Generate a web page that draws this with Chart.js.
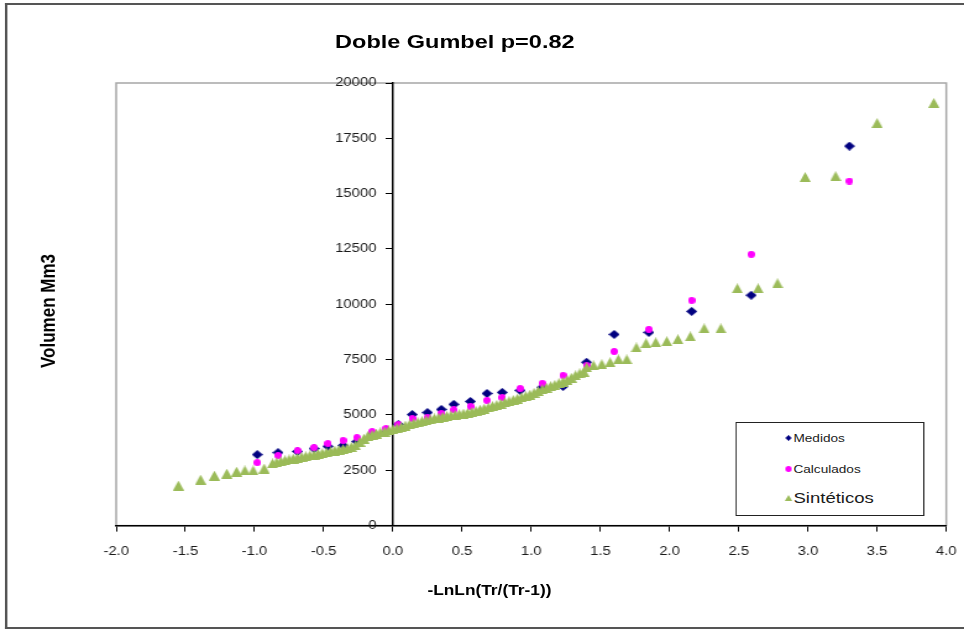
<!DOCTYPE html>
<html>
<head>
<meta charset="utf-8">
<script src="https://cdn.jsdelivr.net/npm/chart.js@4.4.1/dist/chart.umd.min.js"></script>
<style>
  html, body { margin: 0; padding: 0; background: #fff; overflow: hidden; }
  /* the reference is a horizontally stretched capture, so the whole chart is drawn narrow and stretched */
  #wrap { position: absolute; left: 0; top: 0; width: 787px; height: 630px;
          transform: scaleX(1.2359); transform-origin: 0 0;
          font-family: "Liberation Sans", Arial, sans-serif; color: #1a1a1a; }
  #frame { position: absolute; left: 4px; top: 3px; width: 800px; height: 622px;
           border-left: 2px solid #555; border-top: 2px solid #555; border-bottom: 2px solid #555; }
  #chart { position: absolute; left: 0; top: 0; }
  #title { position: absolute; left: 218px; top: 30px; width: 300px; text-align: center;
           font-weight: bold; font-size: 19px; line-height: 24px; color: #000; }
  #ytitle { position: absolute; left: -61px; top: 301px; width: 200px; height: 20px; text-align: center;
            font-weight: bold; font-size: 17px; line-height: 20px; color: #000; transform: rotate(-90deg); }
  #xtitle { position: absolute; left: 296px; top: 580px; width: 200px; text-align: center;
            font-weight: bold; font-size: 14px; line-height: 20px; color: #000; }
  #legend { position: absolute; left: 595px; top: 422px; width: 153px; height: 94px;
            box-sizing: border-box; border: 1.5px solid #222; background: #fff; }
  .item { position: absolute; left: 0; height: 16px; line-height: 16px; white-space: nowrap; }
  .item img { position: absolute; top: 50%; transform: translate(-50%, -50%); }
  .item span { position: absolute; left: 46px; }
</style>
</head>
<body>
<div id="wrap">
  <div id="frame"></div>
  <canvas id="chart" width="787" height="630"></canvas>
  <div id="title">Doble Gumbel p=0.82</div>
  <div id="ytitle">Volumen Mm3</div>
  <div id="xtitle">-LnLn(Tr/(Tr-1))</div>
  <div id="legend"></div>
</div>
<script>
// tick labels
const xTickLabels = ['-2.0', '-1.5', '-1.0', '-0.5', '0.0', '0.5', '1.0', '1.5', '2.0', '2.5', '3.0', '3.5', '4.0'];
const yTickLabels = ['0', '2500', '5000', '7500', '10000', '12500', '15000', '17500', '20000'];

// Medidos / Calculados share the same plotting positions
const obsX = [-0.98, -0.83, -0.69, -0.57, -0.47, -0.36, -0.26, -0.15, -0.05, 0.04, 0.14, 0.25, 0.35,
              0.44, 0.56, 0.68, 0.79, 0.92, 1.08, 1.23, 1.40, 1.60, 1.85, 2.16, 2.59, 3.30];
const medidos = [3210, 3300, 3350, 3480, 3580, 3620, 3800, 4120, 4210, 4570, 5020, 5110, 5250,
                 5480, 5610, 5970, 6020, 6110, 6250, 6290, 7380, 8640, 8730, 9680, 10410, 17150];
const calculados = [2850, 3170, 3390, 3530, 3710, 3850, 3980, 4250, 4390, 4570, 4840, 4890, 5070,
                    5230, 5390, 5660, 5790, 6200, 6430, 6790, 7240, 7870, 8870, 10180, 12260, 15570];

// Sintéticos
const sinX = [-1.55, -1.39, -1.29, -1.20, -1.13, -1.07, -1.01, -0.93, -0.87,
  -0.84, -0.81, -0.78, -0.75, -0.72, -0.69, -0.66, -0.63, -0.60, -0.57, -0.54, -0.51, -0.48, -0.45,
  -0.42, -0.39, -0.36, -0.33, -0.30, -0.27, -0.24, -0.21, -0.18, -0.15, -0.12, -0.09, -0.06, -0.03,
  0.00, 0.03, 0.06, 0.09, 0.12, 0.15, 0.18, 0.21, 0.24, 0.27, 0.30, 0.33, 0.36, 0.39, 0.42, 0.45,
  0.48, 0.51, 0.54, 0.57, 0.60, 0.63, 0.66, 0.69, 0.72, 0.75, 0.78, 0.81, 0.84, 0.87, 0.90, 0.93,
  0.96, 0.99, 1.02, 1.05, 1.08, 1.11, 1.14, 1.17, 1.20, 1.23, 1.26, 1.29, 1.32, 1.35, 1.38,
  1.40, 1.45, 1.51, 1.57, 1.63, 1.69, 1.76, 1.83, 1.90, 1.98, 2.06, 2.15, 2.25, 2.37, 2.49, 2.64,
  2.78, 2.98, 3.20, 3.50, 3.91];
const sinteticos = [1810, 2080, 2260, 2350, 2440, 2490, 2490, 2580, 2810,
  2860, 2900, 2950, 2990, 3030, 3060, 3100, 3130, 3170, 3200, 3240, 3270, 3310, 3350,
  3390, 3430, 3460, 3500, 3550, 3620, 3780, 3930, 4060, 4110, 4160, 4210, 4250, 4300,
  4360, 4400, 4450, 4520, 4570, 4620, 4670, 4720, 4760, 4800, 4840, 4880, 4920, 4950, 4980, 5000,
  5030, 5060, 5090, 5130, 5180, 5240, 5290, 5340, 5400, 5450, 5510, 5570, 5620, 5680, 5740, 5800,
  5850, 5920, 6000, 6080, 6160, 6230, 6300, 6360, 6440, 6500, 6580, 6680, 6790, 6880, 6950,
  7150, 7240, 7290, 7380, 7510, 7510, 8050, 8240, 8280, 8330, 8420, 8550, 8910, 8910, 10720, 10720,
  10950, 15750, 15790, 18190, 19100];

const NAVY = '#000080', PINK = '#ff00ff', GREEN = '#9bbb59';

// small bitmaps used as point styles (marker shapes of the original)
function marker(shape, w, h, color) {
  const c = document.createElement('canvas');
  c.width = w; c.height = h;
  const g = c.getContext('2d');
  g.fillStyle = color;
  g.beginPath();
  if (shape === 'triangle') {
    g.moveTo(w / 2, 0); g.lineTo(w, h); g.lineTo(0, h);
  } else if (shape === 'diamond') {
    g.moveTo(w / 2, 0); g.lineTo(w, h / 2); g.lineTo(w / 2, h); g.lineTo(0, h / 2);
  } else {
    g.ellipse(w / 2, h / 2, w / 2, h / 2, 0, 0, Math.PI * 2);
  }
  g.closePath();
  g.fill();
  return c;
}

const pts = (xs, ys) => xs.map((x, i) => ({ x: x, y: ys[i] }));

const plotBorder = {
  id: 'plotBorder',
  beforeDraw(chart) {
    const { ctx, chartArea: a } = chart;
    ctx.save();
    ctx.strokeStyle = '#a6a6a6';
    ctx.lineWidth = 1.5;
    ctx.strokeRect(a.left, a.top, a.right - a.left, a.bottom - a.top);
    ctx.restore();
  }
};

const tickFont = { family: '"Liberation Sans", Arial, sans-serif', size: 12 };

new Chart(document.getElementById('chart'), {
  type: 'scatter',
  data: {
    datasets: [
      { label: 'Medidos', data: pts(obsX, medidos), pointStyle: marker('diamond', 9, 9, NAVY),
        backgroundColor: NAVY, borderColor: NAVY, pointRadius: 4.5, order: 3 },
      { label: 'Calculados', data: pts(obsX, calculados), pointStyle: marker('circle', 6, 7, PINK),
        backgroundColor: PINK, borderColor: PINK, pointRadius: 3.5, order: 2 },
      { label: 'Sintéticos', data: pts(sinX, sinteticos), pointStyle: marker('triangle', 9, 10, GREEN),
        backgroundColor: GREEN, borderColor: GREEN, pointRadius: 5, order: 1 }
    ]
  },
  options: {
    responsive: false,
    animation: false,
    // right edge: the x labels' overhang (half label + tick padding) sets it, the canvas runs a bit past the window
    layout: { padding: { left: 94, right: 7, top: 83, bottom: 58 } },
    plugins: { legend: { display: false }, title: { display: false }, tooltip: { enabled: false } },
    scales: {
      x: {
        type: 'linear', position: 'bottom', min: -2, max: 4,
        afterBuildTicks: s => { s.ticks = xTickLabels.map(t => ({ value: parseFloat(t) })); },
        ticks: { callback: (v, i) => xTickLabels[i], font: tickFont, color: '#1a1a1a', padding: 13, maxRotation: 0 },
        grid: { drawOnChartArea: false, tickLength: 6, color: '#000', lineWidth: 1 },
        border: { color: '#000', width: 1.5 }
      },
      y: {
        type: 'linear', position: { x: 0 }, min: 0, max: 20000,
        afterBuildTicks: s => { s.ticks = yTickLabels.map(t => ({ value: parseFloat(t) })); },
        // an axis placed at x=0 ignores ticks.padding, so the gap is made with trailing spaces
        ticks: { callback: (v, i) => yTickLabels[i] + '    ', font: tickFont, color: '#1a1a1a' },
        grid: { drawOnChartArea: false, tickLength: 5, color: '#000', lineWidth: 1 },
        border: { color: '#000', width: 1.5 }
      }
    }
  },
  plugins: [plotBorder]
});

// legend (the last entry is written larger in the original)
const legendItems = [
  { text: 'Medidos', img: marker('diamond', 5, 6, NAVY), y: 437, size: 11 },
  { text: 'Calculados', img: marker('circle', 5, 6, PINK), y: 468, size: 11 },
  { text: 'Sintéticos', img: marker('triangle', 6, 6, GREEN), y: 497, size: 15 }
];
const legend = document.getElementById('legend');
legendItems.forEach(it => {
  const row = document.createElement('div');
  row.className = 'item';
  row.style.top = (it.y - 422 - 8) + 'px';
  const im = document.createElement('img');
  im.src = it.img.toDataURL();
  im.style.left = '42px';
  const sp = document.createElement('span');
  sp.textContent = it.text;
  sp.style.fontSize = it.size + 'px';
  row.appendChild(im);
  row.appendChild(sp);
  legend.appendChild(row);
});
</script>
</body>
</html>
